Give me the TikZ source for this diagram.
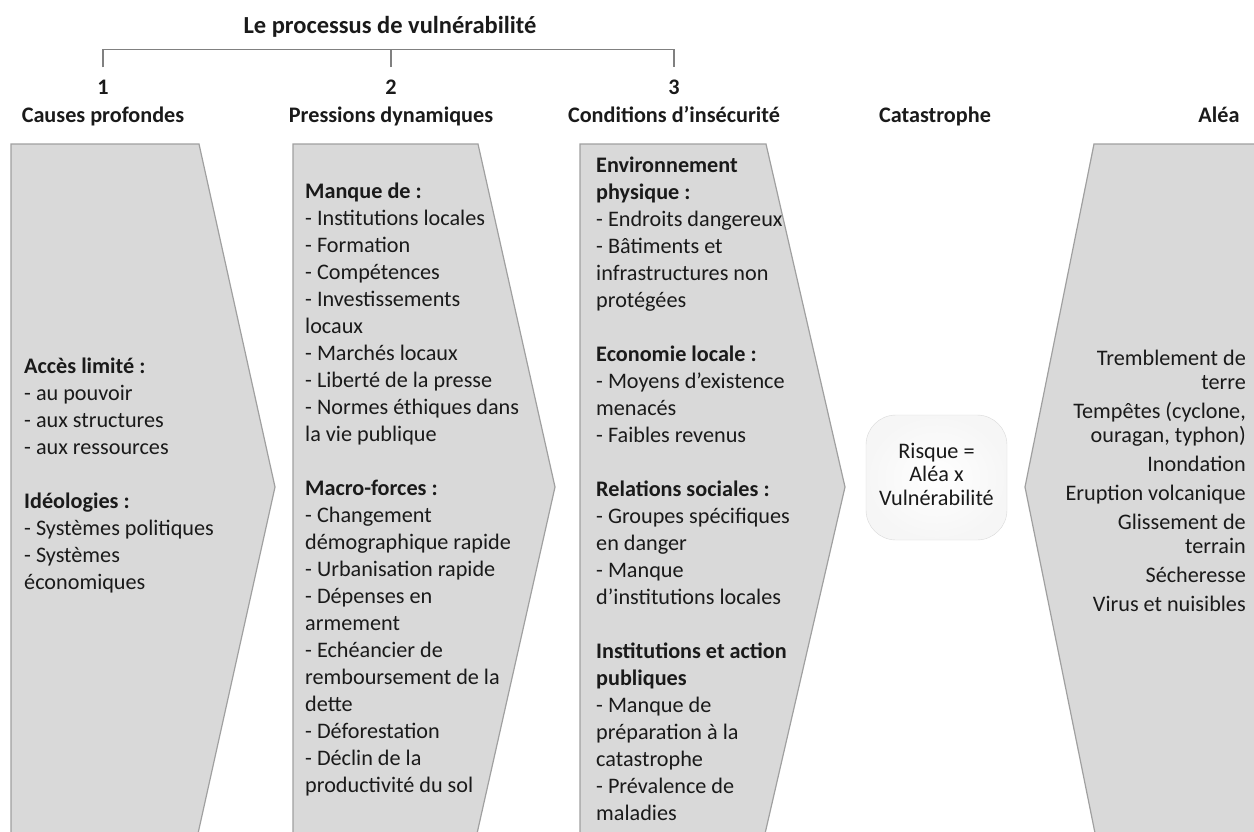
\documentclass[tikz,border=0pt]{standalone}
\usepackage{fontspec}
\setmainfont{Carlito}
\usetikzlibrary{positioning}
\definecolor{boxgray}{HTML}{D9D9D9}
\definecolor{edgegray}{HTML}{A0A0A0}
\definecolor{txt}{HTML}{1A1A1A}

\begin{document}
\begin{tikzpicture}[x=1pt,y=1pt,
  every node/.style={text=txt, inner sep=0pt},
  titre/.style={font=\fontsize{24.5}{29}\selectfont\bfseries, anchor=base},
  entete/.style={font=\fontsize{22.2}{27}\selectfont\bfseries, anchor=base},
  fleche/.style={fill=boxgray, draw=edgegray, line width=1.2pt},
  liste/.style={font=\fontsize{22.2}{27}\selectfont, align=left, anchor=north west},
  risque/.style={draw=gray!30, inner color=white, outer color=gray!7, rounded corners=30pt,
    minimum width=141pt, minimum height=125pt, align=center, text depth=7pt,
    font=\fontsize{22.2}{23.5}\selectfont}]
 \useasboundingbox (0,0) rectangle (1254,-831);

 % titre et accolade
 \node[titre] (titre) at (390,-33) {Le processus de vulnérabilité};
 \node[entete] (n1) at (103,-94) {1};
 \node[entete] (n2) at (391,-94) {2};
 \node[entete] (n3) at (674,-94) {3};
 \draw[gray, line width=1.2pt] ([yshift=12pt]n1.north) -- ++(0,18) -| ([yshift=12pt]n3.north);
 \draw[gray, line width=1.2pt] ([yshift=12pt]n2.north) -- ++(0,18);

 \node[entete] (causes) at (103,-122) {Causes profondes};
 \node[entete] (pressions) at (391,-122) {Pressions dynamiques};
 \node[entete] (conditions) at (674,-122) {Conditions d’insécurité};
 \node[entete] (catastrophe) at (935,-122) {Catastrophe};
 \node[entete] (alea) at (1219,-122) {Aléa};

 % fleches
 \filldraw[fleche] (11,-144) -- (199,-144) -- (275,-487) -- (197,-838) -- (11,-838) -- cycle;
 \filldraw[fleche] (293,-144) -- (478,-144) -- (555,-487) -- (476,-838) -- (293,-838) -- cycle;
 \filldraw[fleche] (580,-144) -- (766,-144) -- (845,-487) -- (764,-838) -- (580,-838) -- cycle;
 \filldraw[fleche] (1262,-144) -- (1094,-144) -- (1025,-487) -- (1096,-838) -- (1262,-838) -- cycle;

 \node[liste] (acces) at (24,-354) {\strut\textbf{Accès limité :}\\- au pouvoir\\- aux structures\\- aux ressources\\[27pt]
   \textbf{Idéologies :}\\- Systèmes politiques\\- Systèmes\\économiques};

 \node[liste] (manque) at (305,-179.5) {\strut\textbf{Manque de :}\\- Institutions locales\\- Formation\\- Compétences\\- Investissements\\locaux\\- Marchés locaux\\- Liberté de la presse\\- Normes éthiques dans\\la vie publique\\[27pt]
   \textbf{Macro-forces :}\\- Changement\\démographique rapide\\- Urbanisation rapide\\- Dépenses en\\armement\\- Echéancier de\\remboursement de la\\dette\\- Déforestation\\- Déclin de la\\productivité du sol};

 \node[liste] (environnement) at (596,-153) {\strut\textbf{Environnement}\\\textbf{physique :}\\- Endroits dangereux\\- Bâtiments et\\infrastructures non\\protégées\\[27pt]
   \textbf{Economie locale :}\\- Moyens d’existence\\menacés\\- Faibles revenus\\[27pt]
   \textbf{Relations sociales :}\\- Groupes spécifiques\\en danger\\- Manque\\d’institutions locales\\[27pt]
   \textbf{Institutions et action}\\\textbf{publiques}\\- Manque de\\préparation à la\\catastrophe\\- Prévalence de\\maladies};

 \node[risque] (risque) at (936.5,-477.5) {Risque =\\Aléa x\\Vulnérabilité};

 \node[liste, align=right, anchor=north east, font=\fontsize{22.2}{24}\selectfont] (aleas) at (1246,-348)
   {\strut Tremblement de\\terre\\[5pt]Tempêtes (cyclone,\\ouragan, typhon)\\[5pt]Inondation\\[5pt]Eruption volcanique\\[5pt]
    Glissement de\\terrain\\[5pt]Sécheresse\\[5pt]Virus et nuisibles};
\end{tikzpicture}
\end{document}
